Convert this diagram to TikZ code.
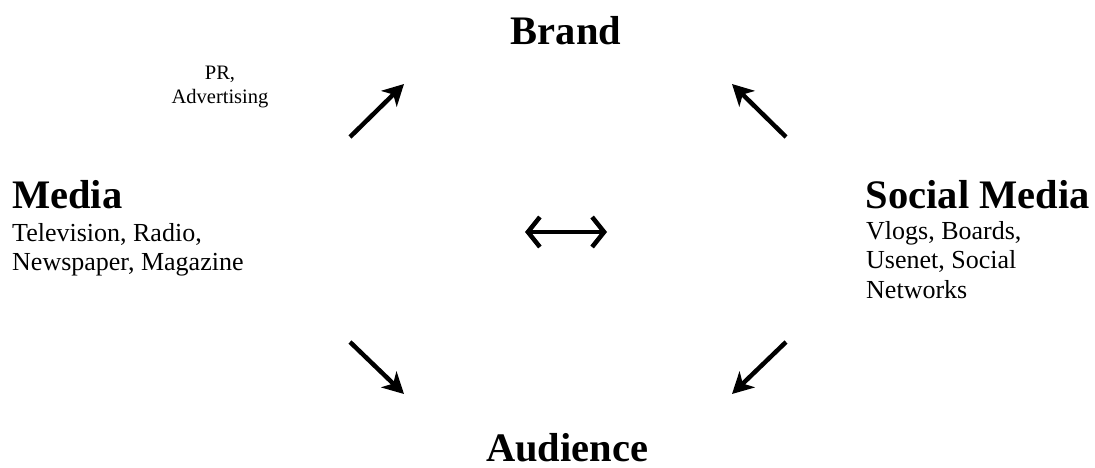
\documentclass[tikz,border=0pt]{standalone}
\usepackage{fontspec}
\setmainfont{Liberation Serif}
\usetikzlibrary{arrows.meta, positioning}
\tikzset{
  flow/.style={-{Stealth[length=21pt,width=22pt,inset=6pt]}, line width=4.5pt, draw=black},
  swap/.style={{Straight Barb[length=12pt,width=30pt]}-{Straight Barb[length=12pt,width=30pt]}, line width=4.5pt, draw=black},
  heading/.style={font=\bfseries\fontsize{40.5}{45}\selectfont, inner sep=0pt},
  channels/.style={font=\fontsize{26}{29.5}\selectfont, align=left, inner sep=0pt},
  tactic/.style={font=\fontsize{20.5}{24}\selectfont, align=center, inner sep=0pt}
}

\begin{document}
\begin{tikzpicture}[x=1pt,y=-1pt]
\useasboundingbox[fill=white] (0,0) rectangle (1095,468);

\node[heading, anchor=base] (brand) at (566,45) {Brand};
\node[heading, anchor=base west] (media) at (12,208) {Media};
\node[heading, anchor=base east] (social) at (1090,208) {Social Media};
\node[heading, anchor=base] (audience) at (567,461) {Audience};

\node[channels, anchor=north west] (mediaList) at (12,223) {Television, Radio,\\ Newspaper, Magazine};
\node[channels, anchor=north west] (socialList) at (866,221) {Vlogs, Boards,\\ Usenet, Social\\ Networks};
\node[tactic, anchor=north] (pr) at (220,66) {PR,\\ Advertising};

% free arrow ends
\coordinate (mediaUp) at (350,137);
\coordinate (brandLeft) at (404,84);
\coordinate (socialUp) at (786,137);
\coordinate (brandRight) at (732,84);
\coordinate (mediaDown) at (350,342);
\coordinate (audLeft) at (404,394);
\coordinate (socialDown) at (786,342);
\coordinate (audRight) at (732,394);
\coordinate (swapL) at (525,232);
\coordinate (swapR) at (607,232);

\draw[flow] (mediaUp) -- (brandLeft);
\draw[flow] (socialUp) -- (brandRight);
\draw[flow] (mediaDown) -- (audLeft);
\draw[flow] (socialDown) -- (audRight);
\draw[swap] (swapL) -- (swapR);

\end{tikzpicture}
\end{document}
